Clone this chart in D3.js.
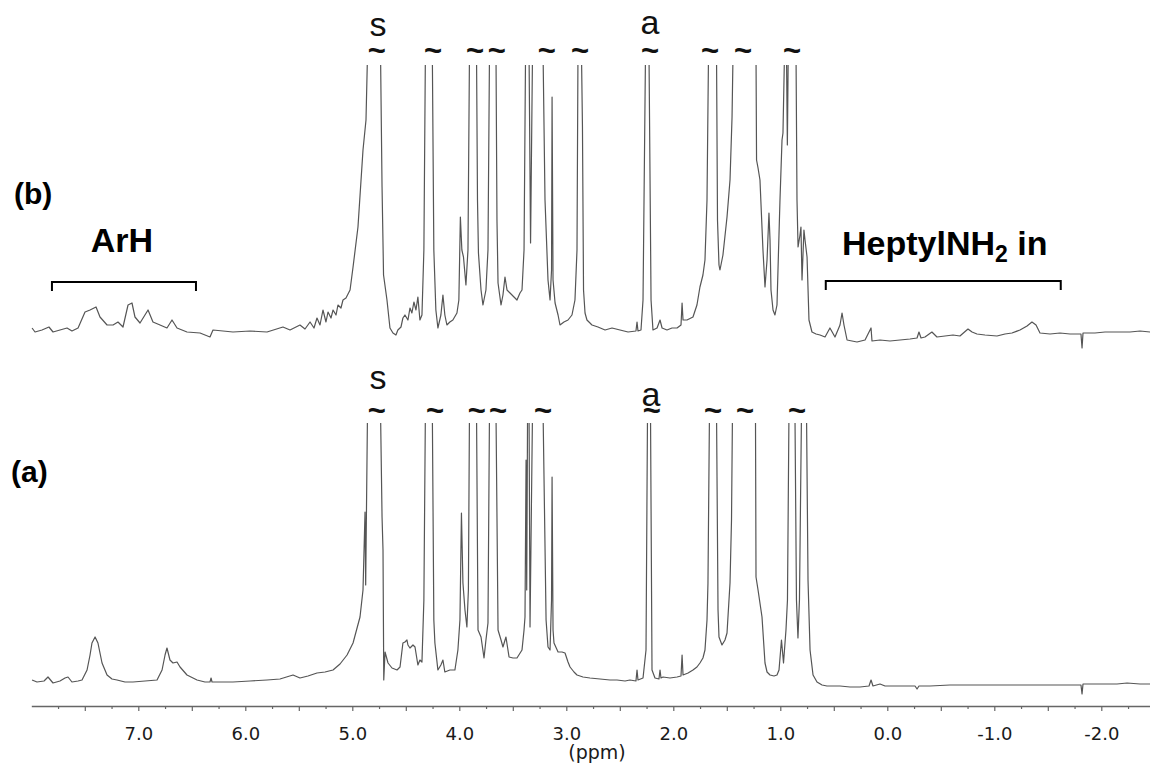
<!DOCTYPE html>
<html>
<head>
<meta charset="utf-8">
<script src="https://cdn.jsdelivr.net/npm/d3@7"></script>
<style>
  body { margin: 0; background: #fff; }
</style>
</head>
<body>
<script>
// Spectrum (b): [ppm, intensity]
const specB = [[7.993,17],[7.965,13],[7.900,15],[7.835,18],[7.797,13],[7.732,15],[7.666,17],[7.620,14],[7.563,17],[7.498,33],[7.451,35],[7.395,38],[7.358,28],[7.292,20],[7.236,20],[7.190,23],[7.143,18],[7.096,40],[7.059,42],[7.031,28],[6.984,22],[6.909,35],[6.863,23],[6.797,20],[6.732,17],[6.685,25],[6.638,17],[6.545,13],[6.423,12],[6.330,8],[6.302,15],[6.115,13],[5.956,14],[5.797,13],[5.648,18],[5.582,15],[5.489,20],[5.442,16],[5.395,23],[5.358,17],[5.330,27],[5.302,20],[5.274,35],[5.246,23],[5.227,33],[5.199,27],[5.180,35],[5.152,30],[5.134,40],[5.106,37],[5.087,45],[5.059,47],[5.021,55],[4.993,78],[4.947,118],[4.900,195],[4.872,225],[4.858,290],[4.807,1500],[4.736,290],[4.722,158],[4.708,70],[4.676,45],[4.648,17],[4.620,12],[4.592,10],[4.574,15],[4.545,18],[4.527,27],[4.508,30],[4.480,25],[4.461,37],[4.443,32],[4.424,43],[4.405,35],[4.387,48],[4.368,25],[4.349,30],[4.331,95],[4.317,290],[4.284,1500],[4.252,290],[4.238,95],[4.219,35],[4.200,17],[4.172,30],[4.153,50],[4.135,30],[4.116,20],[4.088,23],[4.060,25],[4.022,32],[4.004,45],[3.990,128],[3.976,95],[3.961,88],[3.938,60],[3.919,95],[3.905,290],[3.873,1500],[3.839,290],[3.830,145],[3.821,92],[3.797,55],[3.779,40],[3.751,55],[3.732,95],[3.718,290],[3.685,1500],[3.657,290],[3.648,125],[3.638,62],[3.610,40],[3.592,50],[3.573,68],[3.554,55],[3.526,52],[3.489,48],[3.461,45],[3.433,52],[3.414,55],[3.395,95],[3.381,290],[3.362,1500],[3.348,290],[3.334,102],[3.316,290],[3.264,1500],[3.217,290],[3.199,145],[3.171,65],[3.152,45],[3.138,75],[3.133,248],[3.124,65],[3.105,42],[3.077,30],[3.059,20],[3.022,23],[2.984,25],[2.947,30],[2.919,45],[2.900,95],[2.891,290],[2.877,1500],[2.858,290],[2.849,218],[2.839,55],[2.825,32],[2.807,25],[2.760,20],[2.704,18],[2.638,15],[2.573,17],[2.498,15],[2.423,13],[2.349,14],[2.339,23],[2.330,14],[2.302,15],[2.283,45],[2.260,290],[2.246,1500],[2.227,290],[2.208,45],[2.190,15],[2.152,17],[2.124,25],[2.105,17],[2.059,15],[2.012,17],[1.965,17],[1.928,20],[1.918,42],[1.909,25],[1.872,25],[1.816,28],[1.779,40],[1.751,58],[1.723,70],[1.704,85],[1.685,145],[1.671,290],[1.638,1500],[1.596,290],[1.587,125],[1.573,80],[1.564,75],[1.536,90],[1.498,128],[1.470,165],[1.451,228],[1.442,290],[1.330,1500],[1.227,290],[1.222,185],[1.208,177],[1.190,165],[1.162,95],[1.143,58],[1.124,85],[1.106,132],[1.096,105],[1.087,55],[1.068,35],[1.050,30],[1.031,40],[1.003,145],[0.984,205],[0.975,212],[0.961,290],[0.951,1000],[0.942,290],[0.934,200],[0.926,290],[0.891,1500],[0.853,290],[0.844,145],[0.834,98],[0.816,110],[0.807,118],[0.797,65],[0.779,115],[0.769,105],[0.750,88],[0.732,25],[0.704,13],[0.666,11],[0.629,10],[0.582,8],[0.536,17],[0.489,8],[0.442,20],[0.423,32],[0.405,20],[0.376,5],[0.330,4],[0.283,3],[0.208,5],[0.152,17],[0.143,4],[0.068,5],[-0.025,4],[-0.119,5],[-0.212,6],[-0.278,7],[-0.296,13],[-0.315,7],[-0.352,8],[-0.417,13],[-0.464,8],[-0.539,9],[-0.614,10],[-0.679,9],[-0.754,16],[-0.792,13],[-0.838,11],[-0.913,10],[-1.025,9],[-1.100,11],[-1.165,12],[-1.240,15],[-1.306,19],[-1.352,23],[-1.390,20],[-1.427,12],[-1.521,11],[-1.614,12],[-1.708,11],[-1.810,11],[-1.820,-3],[-1.829,12],[-1.941,12],[-2.035,13],[-2.147,13],[-2.268,13],[-2.362,14],[-2.456,13]];

// Spectrum (a)
const specA = [[7.993,23],[7.947,21],[7.881,22],[7.844,26],[7.797,20],[7.732,22],[7.685,25],[7.657,26],[7.620,21],[7.563,22],[7.526,23],[7.479,33],[7.451,48],[7.433,60],[7.404,66],[7.377,60],[7.339,40],[7.292,28],[7.246,24],[7.199,23],[7.124,21],[7.050,21],[6.937,22],[6.825,23],[6.778,33],[6.750,48],[6.732,55],[6.704,43],[6.676,40],[6.638,41],[6.610,36],[6.545,28],[6.451,23],[6.377,21],[6.330,21],[6.320,25],[6.311,21],[6.115,21],[5.956,22],[5.797,23],[5.676,24],[5.554,28],[5.489,25],[5.414,27],[5.330,30],[5.255,31],[5.180,33],[5.115,39],[5.049,48],[4.993,60],[4.928,86],[4.900,113],[4.881,191],[4.875,118],[4.858,290],[4.797,1500],[4.736,290],[4.722,186],[4.713,153],[4.706,23],[4.694,51],[4.666,40],[4.629,35],[4.582,33],[4.554,36],[4.527,60],[4.508,61],[4.489,63],[4.480,58],[4.461,55],[4.433,58],[4.414,56],[4.387,38],[4.368,43],[4.349,41],[4.331,103],[4.317,290],[4.284,1500],[4.252,290],[4.238,83],[4.228,60],[4.200,33],[4.172,38],[4.153,43],[4.135,31],[4.088,33],[4.041,33],[4.013,53],[3.994,83],[3.980,190],[3.966,120],[3.947,93],[3.929,76],[3.915,113],[3.905,290],[3.873,1500],[3.839,290],[3.825,73],[3.797,66],[3.769,45],[3.751,63],[3.732,80],[3.718,290],[3.685,1500],[3.657,290],[3.638,73],[3.610,63],[3.592,56],[3.564,66],[3.535,46],[3.498,45],[3.461,45],[3.414,53],[3.395,73],[3.386,86],[3.376,243],[3.370,113],[3.362,290],[3.355,1000],[3.348,290],[3.339,76],[3.316,290],[3.264,1500],[3.217,290],[3.189,83],[3.171,56],[3.152,53],[3.138,103],[3.133,226],[3.124,73],[3.115,60],[3.077,51],[3.040,51],[3.012,50],[2.984,41],[2.965,36],[2.928,31],[2.900,28],[2.844,26],[2.779,25],[2.685,24],[2.592,23],[2.526,23],[2.451,22],[2.405,23],[2.349,22],[2.339,33],[2.330,23],[2.283,25],[2.255,53],[2.241,290],[2.227,1500],[2.213,290],[2.199,33],[2.171,25],[2.134,24],[2.124,33],[2.115,25],[2.096,26],[2.031,25],[1.965,26],[1.928,27],[1.918,48],[1.909,28],[1.862,30],[1.816,33],[1.779,36],[1.751,40],[1.723,45],[1.704,53],[1.685,83],[1.676,120],[1.662,290],[1.629,1500],[1.596,290],[1.582,93],[1.573,66],[1.545,58],[1.517,63],[1.498,70],[1.470,120],[1.456,183],[1.447,290],[1.339,1500],[1.232,290],[1.227,126],[1.208,113],[1.171,86],[1.143,40],[1.124,31],[1.096,28],[1.059,27],[1.031,28],[1.012,33],[0.989,63],[0.970,40],[0.947,73],[0.933,103],[0.919,290],[0.891,1500],[0.863,290],[0.849,103],[0.835,65],[0.821,103],[0.802,290],[0.779,1500],[0.755,290],[0.741,123],[0.722,53],[0.694,28],[0.657,21],[0.610,18],[0.564,17],[0.442,17],[0.348,16],[0.255,16],[0.171,17],[0.152,23],[0.134,17],[0.068,19],[0.021,17],[-0.119,17],[-0.259,17],[-0.278,14],[-0.296,17],[-0.399,17],[-0.586,18],[-0.773,18],[-0.960,18],[-1.147,18],[-1.334,18],[-1.521,18],[-1.708,18],[-1.810,18],[-1.820,9],[-1.829,19],[-1.988,19],[-2.147,19],[-2.241,20],[-2.362,19],[-2.456,19]];

// Cut marks (~) over the truncated peaks, ppm
const cutsB = [4.772, 4.246, 3.853, 3.650, 3.183, 2.872, 2.218, 1.657, 1.349, 0.891];
const cutsA = [4.772, 4.227, 3.837, 3.638, 3.218, 2.202, 1.629, 1.330, 0.844];

// Peak letters: [text, ppm]
const lettersB = [["s", 4.760], ["a", 2.218]];
const lettersA = [["s", 4.760], ["a", 2.208]];

// Region brackets, ppm
const arhRange = [7.807, 6.461];
const heptylRange = [0.575, -1.621];

// Axis ticks
const majorTicks = [7.5, 7.0, 6.5, 6.0, 5.5, 5.0, 4.5, 4.0, 3.5, 3.0, 2.5, 2.0, 1.5, 1.0, 0.5, 0.0, -0.5, -1.0, -1.5, -2.0];
const minorTicks = [7.75, 7.25, 6.75, 6.25, 5.75, 5.25, 4.75, 4.25, 3.75, 3.25, 2.75, 2.25, 1.75, 1.25, 0.75, 0.25, -0.25, -0.75, -1.25, -1.75, -2.25];
const tickLabels = [7, 6, 5, 4, 3, 2, 1, 0, -1, -2];

const width = 1150, height = 769;
const axisY = 706;
const lineColor = "#555";
const sansFont = "'Liberation Sans', Arial, sans-serif";
const axisFont = "'DejaVu Sans', Verdana, sans-serif";

// Scales: ppm runs right to left
const x = d3.scaleLinear().domain([8, -2.5]).range([31.3, 1154.8]);
const yB = d3.scaleLinear().domain([0, 280]).range([345, 65]);
const yA = d3.scaleLinear().domain([0, 280]).range([703, 423]);

const svg = d3.select("body")
    .append("svg")
    .attr("width", width)
    .attr("height", height)
    .style("display", "block");

// clip the tall peaks at the top of each panel
const defs = svg.append("defs");
defs.append("clipPath").attr("id", "clipB")
    .append("rect").attr("x", 0).attr("y", 65).attr("width", width).attr("height", 335);
defs.append("clipPath").attr("id", "clipA")
    .append("rect").attr("x", 0).attr("y", 423).attr("width", width).attr("height", 282);

function drawTrace(data, yScale, clipId) {
    const line = d3.line()
        .x(d => x(d[0]))
        .y(d => yScale(d[1]));

    svg.append("path")
        .datum(data)
        .attr("clip-path", `url(#${clipId})`)
        .attr("d", line)
        .attr("fill", "none")
        .attr("stroke", lineColor)
        .attr("stroke-width", 1.2)
        .attr("stroke-linejoin", "round");
}

drawTrace(specB, yB, "clipB");
drawTrace(specA, yA, "clipA");

// tilde cut marks and letters
function drawMarks(cuts, letters, tildeY, letterY) {
    svg.selectAll(null)
        .data(cuts)
        .enter()
        .append("text")
        .attr("x", d => x(d))
        .attr("y", tildeY)
        .attr("text-anchor", "middle")
        .style("font-family", sansFont)
        .style("font-weight", "bold")
        .style("font-size", "31px")
        .style("fill", "#111")
        .text("~");

    svg.selectAll(null)
        .data(letters)
        .enter()
        .append("text")
        .attr("x", d => x(d[1]))
        .attr("y", (d, i) => letterY[i])
        .attr("text-anchor", "middle")
        .style("font-family", sansFont)
        .style("font-size", "34px")
        .style("fill", "#111")
        .text(d => d[0]);
}

drawMarks(cutsB, lettersB, 61, [36, 34]);
drawMarks(cutsA, lettersA, 421, [389, 406]);

// brackets
function drawBracket(range, yTop) {
    const x0 = x(range[0]), x1 = x(range[1]);
    svg.append("path")
        .attr("d", `M${x0},${yTop + 9}V${yTop}H${x1}V${yTop + 9}`)
        .attr("fill", "none")
        .attr("stroke", "#000")
        .attr("stroke-width", 2);
}

drawBracket(arhRange, 282);
drawBracket(heptylRange, 281);

svg.append("text")
    .attr("x", d3.mean(arhRange.map(x)) - 2)
    .attr("y", 252)
    .attr("text-anchor", "middle")
    .style("font-family", sansFont)
    .style("font-weight", "bold")
    .style("font-size", "34px")
    .text("ArH");

const hep = svg.append("text")
    .attr("x", 842)
    .attr("y", 255)
    .style("font-family", sansFont)
    .style("font-weight", "bold")
    .style("font-size", "34px");
hep.append("tspan").text("HeptylNH");
hep.append("tspan").attr("dy", 7).style("font-size", "23px").text("2");
hep.append("tspan").attr("dy", -7).text(" in");

// panel labels
svg.append("text")
    .attr("x", 14).attr("y", 204)
    .style("font-family", sansFont)
    .style("font-weight", "bold")
    .style("font-size", "30px")
    .text("(b)");

svg.append("text")
    .attr("x", 11).attr("y", 482)
    .style("font-family", sansFont)
    .style("font-weight", "bold")
    .style("font-size", "30px")
    .text("(a)");

// x axis: major ticks every 0.5 with labels on whole ppm, minor every 0.25
const axisG = svg.append("g")
    .attr("transform", `translate(0,${axisY})`)
    .call(d3.axisBottom(x)
        .tickValues(majorTicks)
        .tickSize(5)
        .tickSizeOuter(0)
        .tickPadding(16)
        .tickFormat(d => tickLabels.includes(d) ? d.toFixed(1) : ""));

const minorG = svg.append("g")
    .attr("transform", `translate(0,${axisY})`)
    .call(d3.axisBottom(x)
        .tickValues(minorTicks)
        .tickSize(3)
        .tickFormat(""));
minorG.select(".domain").remove();

axisG.select(".domain").attr("stroke", "#666").attr("stroke-width", 1.5);
svg.selectAll(".tick line").attr("stroke", "#666").attr("stroke-width", 1.2);
axisG.selectAll(".tick text")
    .style("font-family", axisFont)
    .style("font-size", "18px")
    .style("fill", "#1a1a1a");

svg.append("text")
    .attr("x", 597)
    .attr("y", 759)
    .attr("text-anchor", "middle")
    .style("font-family", axisFont)
    .style("font-size", "19px")
    .style("fill", "#1a1a1a")
    .text("(ppm)");
</script>
</body>
</html>
